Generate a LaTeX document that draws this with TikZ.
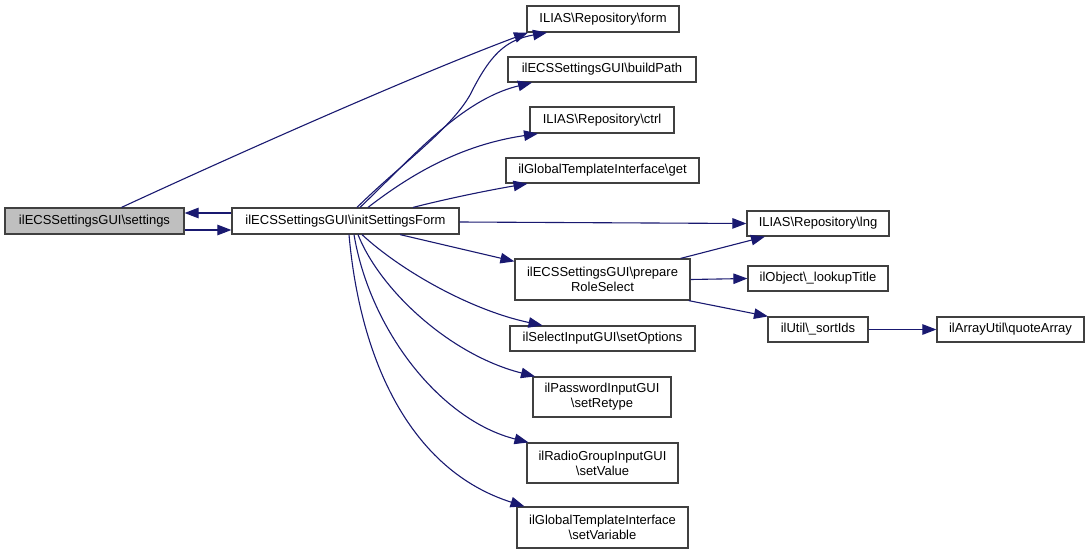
\documentclass[tikz,border=0pt]{standalone}
\usepackage{fontspec}
\setmainfont{Liberation Sans}
\usetikzlibrary{arrows.meta,calc}
\definecolor{edgec}{HTML}{191970}
\definecolor{bordc}{HTML}{404040}
\definecolor{grayfill}{HTML}{BFBFBF}
\newcommand{\bs}{\textbackslash}
\begin{document}
\begin{tikzpicture}[x=1pt,y=-1pt,
  box/.style={draw=bordc, line width=1.2pt, fill=white, inner sep=0pt, align=center,
    font=\fontsize{13}{15}\selectfont},
  call/.style={draw=edgec, line width=1.1pt, -{Triangle[length=14pt,width=10.5pt]}}]
\useasboundingbox (0,0) rectangle (1089,554);
% rank 0/1
\node[box, fill=grayfill, minimum width=179pt, minimum height=26pt] (settings) at (94.5,221) {ilECSSettingsGUI\bs settings};
\node[box, minimum width=227pt, minimum height=26pt] (init) at (345.5,221) {ilECSSettingsGUI\bs initSettingsForm};
% rank 2
\node[box, minimum width=152pt, minimum height=26pt] (form) at (603,19) {ILIAS\bs Repository\bs form};
\node[box, minimum width=188pt, minimum height=25pt] (build) at (602,69.5) {ilECSSettingsGUI\bs buildPath};
\node[box, minimum width=144pt, minimum height=26pt] (ctrl) at (602,120) {ILIAS\bs Repository\bs ctrl};
\node[box, minimum width=193pt, minimum height=25pt] (get) at (602.5,170.5) {ilGlobalTemplateInterface\bs get};
\node[box, minimum width=175pt, minimum height=41pt] (prep) at (602.5,279.5) {ilECSSettingsGUI\bs prepare\\RoleSelect};
\node[box, minimum width=185pt, minimum height=25pt] (opts) at (602.5,338.5) {ilSelectInputGUI\bs setOptions};
\node[box, minimum width=138pt, minimum height=40pt] (retype) at (602,397) {ilPasswordInputGUI\\\bs setRetype};
\node[box, minimum width=151pt, minimum height=40pt] (value) at (602.5,463) {ilRadioGroupInputGUI\\\bs setValue};
\node[box, minimum width=171pt, minimum height=41pt] (variable) at (602.5,527.5) {ilGlobalTemplateInterface\\\bs setVariable};
% rank 3
\node[box, minimum width=142pt, minimum height=25pt] (lng) at (818,223.5) {ILIAS\bs Repository\bs lng};
\node[box, minimum width=140pt, minimum height=25pt] (lookup) at (818,278.5) {ilObject\bs\_lookupTitle};
\node[box, minimum width=100pt, minimum height=25pt] (sort) at (818,329.5) {ilUtil\bs\_sortIds};
% rank 4
\node[box, minimum width=147pt, minimum height=25pt] (quote) at (1010.5,329.5) {ilArrayUtil\bs quoteArray};
% edges
\draw[call] ([xshift=27pt]settings.north) .. controls (250,148) and (420,73) .. ([xshift=-75pt]form.south);
\draw[call] ([yshift=8pt]init.west) -- ([yshift=8pt]settings.east);
\draw[call] ([yshift=-9pt]settings.east) -- ([yshift=-9pt]init.west);
\draw[call] ([xshift=11.5pt]init.north) .. controls (400,165) and (450,130) .. (470,95)
   .. controls (490,55) and (505,40) .. ([xshift=-56pt]form.south);
\draw[call] ([xshift=14.5pt]init.north) .. controls (410,160) and (460,100) .. ([xshift=-70pt]build.south);
\draw[call] ([xshift=22.5pt]init.north) .. controls (410,175) and (460,145) .. ([xshift=-64pt]ctrl.south);
\draw[call] ([xshift=67.5pt]init.north) .. controls (450,198) and (490,190) .. ([xshift=-75pt]get.south);
\draw[call] ([yshift=-1pt]init.east) -- (lng.west);
\draw[call] ([xshift=54.5pt]init.south) -- ([yshift=-3pt]prep.north west);
\draw[call] ([xshift=16.5pt]init.south) .. controls (400,270) and (470,310) .. ([xshift=-60pt]opts.north);
\draw[call] ([xshift=12.5pt]init.south) .. controls (380,290) and (450,355) .. ([xshift=-67pt]retype.north);
\draw[call] ([xshift=8.5pt]init.south) .. controls (370,330) and (440,420) .. ([xshift=-74pt]value.north);
\draw[call] ([xshift=3.5pt]init.south) .. controls (360,360) and (410,470) .. ([xshift=-78pt]variable.north);
\draw[call] ([xshift=-10pt]prep.north east) -- ([xshift=-53pt]lng.south);
\draw[call] (prep.east) -- (lookup.west);
\draw[call] ([xshift=-2pt]prep.south east) -- ([xshift=-50pt]sort.north);
\draw[call] (sort.east) -- (quote.west);
\end{tikzpicture}
\end{document}
